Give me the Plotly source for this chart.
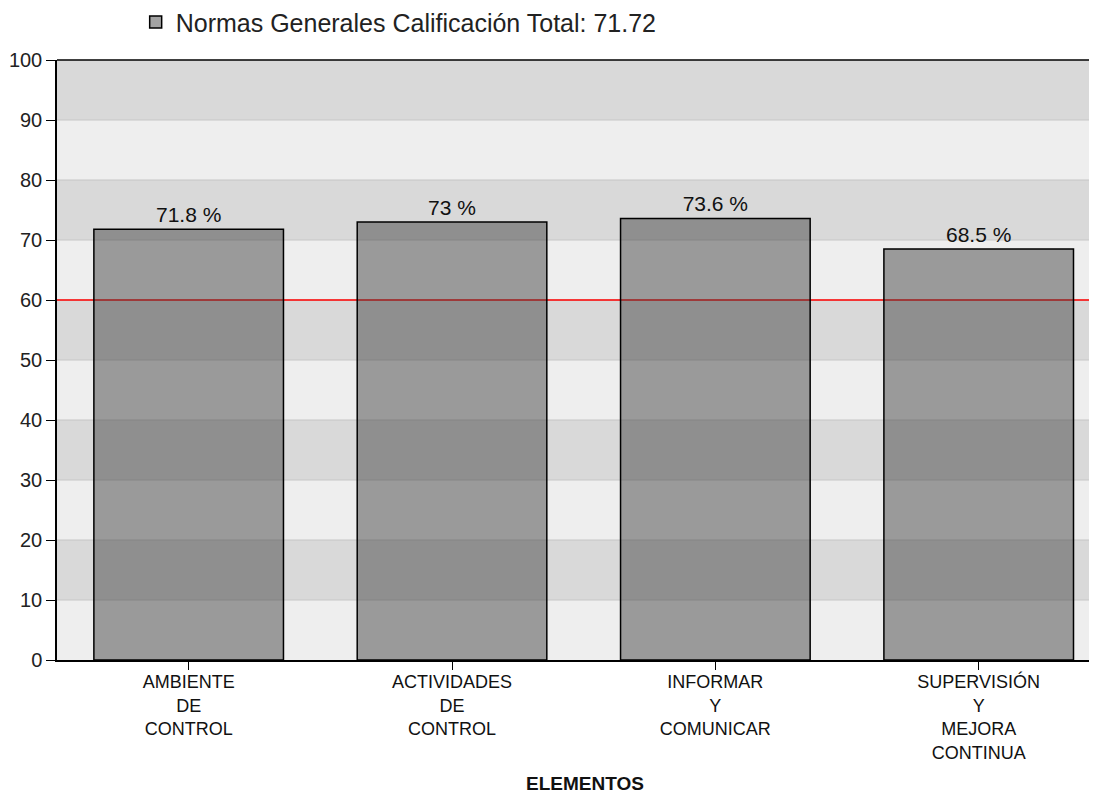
import plotly.graph_objects as go

categories = ["AMBIENTE<br>DE<br>CONTROL", "ACTIVIDADES<br>DE<br>CONTROL",
              "INFORMAR<br>Y<br>COMUNICAR", "SUPERVISIÓN<br>Y<br>MEJORA<br>CONTINUA"]
values = [71.8, 73, 73.6, 68.5]
value_labels = ["71.8 %", "73 %", "73.6 %", "68.5 %"]
series_name = "Normas Generales Calificación Total: 71.72"
threshold = 60
y_ticks = [0, 10, 20, 30, 40, 50, 60, 70, 80, 90, 100]

fig = go.Figure()
fig.add_trace(go.Bar(
    x=categories, y=values, name=series_name,
    text=value_labels, textposition="outside",
    textfont=dict(size=21, color="#111", family="Liberation Sans, Arial"),
    marker=dict(color="rgba(62,62,62,0.48)", line=dict(color="#000", width=1.5)),
    width=0.72, cliponaxis=False, showlegend=True,
))

shapes = []
for i in range(10):
    lo, hi = y_ticks[i], y_ticks[i + 1]
    col = "#d9d9d9" if i % 2 == 1 else "#eeeeee"
    shapes.append(dict(type="rect", xref="paper", yref="y", x0=0, x1=1, y0=lo, y1=hi,
                       fillcolor=col, line=dict(width=0), layer="below"))
for t in y_ticks[1:-1]:
    shapes.append(dict(type="line", xref="paper", yref="y", x0=0, x1=1, y0=t, y1=t,
                       line=dict(color="#c6c6c6", width=1), layer="below"))
shapes.append(dict(type="line", xref="paper", yref="y", x0=0, x1=1, y0=threshold, y1=threshold,
                   line=dict(color="#ff0000", width=1.5), layer="below"))
shapes.append(dict(type="line", xref="paper", yref="paper", x0=0, x1=1, y0=1, y1=1,
                   line=dict(color="#000", width=1.5), layer="above"))
fig.update_layout(shapes=shapes)

fig.update_layout(
    width=1105, height=792,
    margin=dict(l=49, r=0, t=52, b=140, autoexpand=False),
    paper_bgcolor="white", plot_bgcolor="rgba(0,0,0,0)",
    font=dict(family="Liberation Sans, Arial", color="#111"),
    legend=dict(orientation="h", x=0.0745, xanchor="left", y=1.063, yanchor="middle",
                font=dict(size=25, color="#222"), bgcolor="rgba(0,0,0,0)"),
)
fig.update_xaxes(range=[-0.5, 3.51], showline=True, linecolor="#000", linewidth=1.5,
                 ticks="outside", ticklen=8, tickcolor="#000", automargin=False,
                 ticklabelstandoff=-3,
                 tickfont=dict(size=18, color="#111"), showgrid=False,
                 title=dict(text="<b>ELEMENTOS</b>", font=dict(size=19, color="#111"), standoff=15))
fig.update_yaxes(range=[0, 100], tickvals=y_ticks, showline=True, linecolor="#000", linewidth=1.5,
                 ticks="outside", ticklen=9, tickcolor="#000", automargin=False,
                 tickfont=dict(size=20, color="#222"), showgrid=False, zeroline=False)

fig.write_html("out.html")
